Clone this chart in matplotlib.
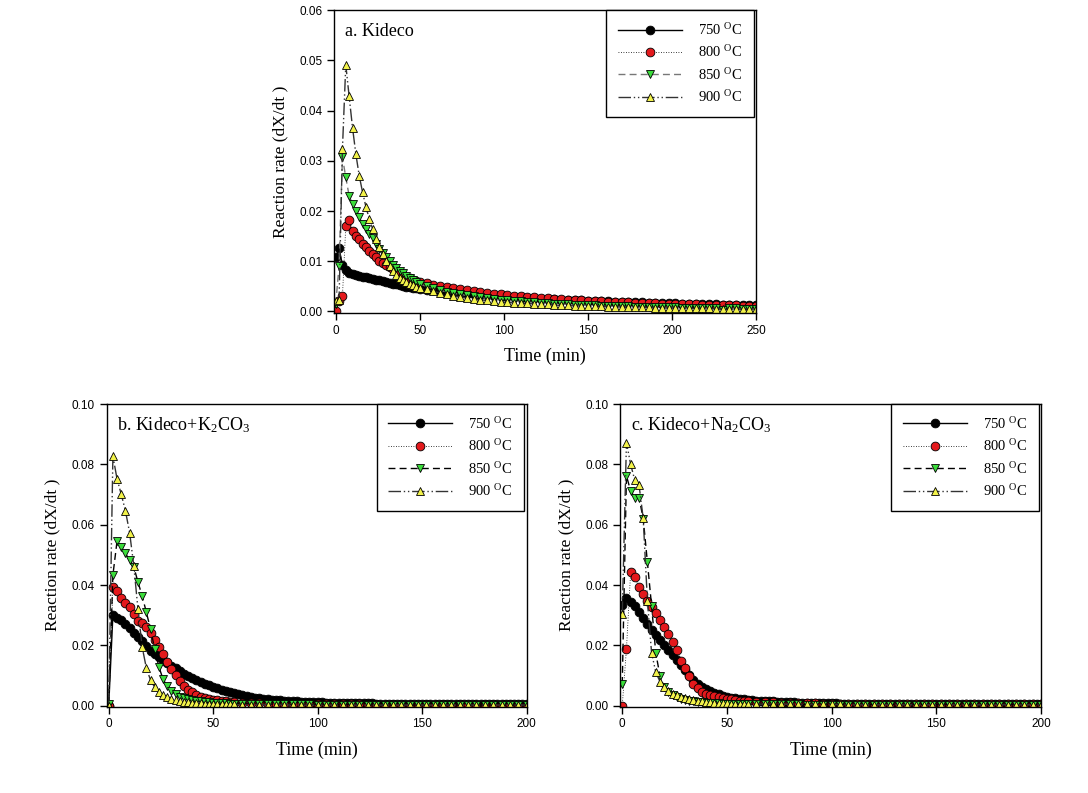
import numpy as np
import matplotlib
matplotlib.use("Agg")
import matplotlib.pyplot as plt

plt.rcParams['mathtext.fontset'] = 'custom'
plt.rcParams['mathtext.rm'] = 'Liberation Serif'
plt.rcParams['mathtext.it'] = 'Liberation Serif:italic'

# ---- data ----
# panel a: Kideco, time grid (min)
time_a = [0, 2, 4, 6, 8, 10, 12, 14, 16, 18, 20, 22, 24, 26, 28, 30, 32, 34, 36, 38, 40,
          42, 44, 46, 48, 50,
          54, 58, 62, 66, 70, 74, 78, 82, 86, 90, 94, 98, 102, 106, 110, 114, 118, 122, 126,
          130, 134, 138, 142, 146, 150, 154, 158, 162, 166, 170, 174, 178, 182, 186, 190,
          194, 198, 202, 206, 210, 214, 218, 222, 226, 230, 234, 238, 242, 246, 250]
a_750 = [0.0108, 0.0126, 0.0092, 0.0082, 0.0077, 0.0075, 0.0073, 0.0071, 0.0069, 0.0068, 0.0066,
         0.0065, 0.0063, 0.0062, 0.0060, 0.0058, 0.0057, 0.0055, 0.0054, 0.0052, 0.0051,
         0.0049, 0.0048, 0.0047, 0.0046, 0.0045,
         0.0043, 0.0042, 0.0040, 0.0039, 0.0037, 0.0036, 0.0035, 0.0034, 0.0033, 0.0032, 0.0031,
         0.0030, 0.0029, 0.0028, 0.0027, 0.0027, 0.0026, 0.0025, 0.0025, 0.0024, 0.0023, 0.0023,
         0.0022, 0.0022, 0.0021, 0.0021, 0.0020, 0.0020, 0.0019, 0.0019, 0.0018, 0.0018, 0.0018,
         0.0017, 0.0017, 0.0016, 0.0016, 0.0016, 0.0015, 0.0015, 0.0015, 0.0014, 0.0014, 0.0014,
         0.0013, 0.0013, 0.0013, 0.0012, 0.0012, 0.0012]
a_800 = [0.0000, 0.0020, 0.0030, 0.0170, 0.0183, 0.0161, 0.0150, 0.0145, 0.0135, 0.0129, 0.0121,
         0.0114, 0.0108, 0.0101, 0.0096, 0.0092, 0.0088, 0.0084, 0.0080, 0.0076, 0.0072,
         0.0069, 0.0066, 0.0063, 0.0061, 0.0059,
         0.0056, 0.0053, 0.0051, 0.0048, 0.0046, 0.0044, 0.0042, 0.0040, 0.0038, 0.0036, 0.0035,
         0.0034, 0.0032, 0.0031, 0.0030, 0.0029, 0.0028, 0.0027, 0.0026, 0.0025, 0.0024, 0.0023,
         0.0023, 0.0022, 0.0021, 0.0021, 0.0020, 0.0019, 0.0019, 0.0018, 0.0018, 0.0017, 0.0017,
         0.0016, 0.0016, 0.0015, 0.0015, 0.0015, 0.0014, 0.0014, 0.0014, 0.0013, 0.0013, 0.0013,
         0.0012, 0.0012, 0.0012, 0.0011, 0.0011, 0.0011]
a_850 = [0.0015, 0.0090, 0.0307, 0.0267, 0.0230, 0.0214, 0.0200, 0.0188, 0.0174, 0.0164, 0.0154,
         0.0146, 0.0135, 0.0125, 0.0116, 0.0108, 0.0100, 0.0093, 0.0087, 0.0081, 0.0076,
         0.0071, 0.0066, 0.0062, 0.0058, 0.0055,
         0.0050, 0.0046, 0.0042, 0.0039, 0.0036, 0.0034, 0.0032, 0.0030, 0.0028, 0.0026, 0.0025,
         0.0023, 0.0022, 0.0021, 0.0020, 0.0019, 0.0018, 0.0017, 0.0016, 0.0015, 0.0015, 0.0014,
         0.0013, 0.0013, 0.0012, 0.0012, 0.0011, 0.0011, 0.0010, 0.0010, 0.0010, 0.0009, 0.0009,
         0.0009, 0.0008, 0.0008, 0.0008, 0.0008, 0.0007, 0.0007, 0.0007, 0.0007, 0.0006, 0.0006,
         0.0003, 0.0006, 0.0006, 0.0005, 0.0005, 0.0005]
a_900 = [0.0020, 0.0022, 0.0323, 0.0491, 0.0428, 0.0366, 0.0313, 0.0270, 0.0237, 0.0208, 0.0184,
         0.0164, 0.0145, 0.0129, 0.0114, 0.0101, 0.0090, 0.0080, 0.0072, 0.0067, 0.0062,
         0.0058, 0.0055, 0.0052, 0.0049, 0.0047,
         0.0044, 0.0040, 0.0037, 0.0034, 0.0031, 0.0029, 0.0027, 0.0025, 0.0023, 0.0022, 0.0020,
         0.0019, 0.0018, 0.0017, 0.0016, 0.0016, 0.0015, 0.0014, 0.0014, 0.0013, 0.0012, 0.0012,
         0.0011, 0.0011, 0.0010, 0.0010, 0.0010, 0.0009, 0.0009, 0.0009, 0.0008, 0.0008, 0.0008,
         0.0008, 0.0007, 0.0007, 0.0007, 0.0007, 0.0006, 0.0006, 0.0006, 0.0006, 0.0006, 0.0005,
         0.0005, 0.0005, 0.0005, 0.0005, 0.0005, 0.0005]

# panels b and c share one time grid (min)
time_bc = [0, 2, 4, 6, 8, 10, 12, 14, 16, 18, 20, 22, 24, 26, 28, 30, 32, 34, 36, 38, 40,
           42, 44, 46, 48, 50, 52, 54, 56, 58, 60,
           64, 68, 72, 76, 80, 84, 88, 92, 96, 100, 104, 108, 112, 116, 120, 124, 128, 132,
           136, 140, 144, 148, 152, 156, 160, 164, 168, 172, 176, 180, 184, 188, 192, 196, 200]
# the 750 oC runs in b and c were logged more often
time_bc_750 = [0, 2, 4, 6, 8, 10, 12, 14, 16, 18, 20, 22, 24, 26, 28, 30, 32, 34, 36, 38, 40,
               42, 44, 46, 48, 50, 52, 54, 56, 58, 60, 62, 64, 66, 68, 70, 72, 74, 76, 78, 80,
               82, 84, 86, 88, 90, 92, 94, 96, 98, 100, 102, 104, 106, 108, 110, 112, 114, 116,
               118, 120, 122, 124, 126, 128, 130, 132, 134, 136, 138, 140, 142, 144, 146, 148,
               150, 152, 154, 156, 158, 160, 162, 164, 166, 168, 170, 172, 174, 176, 178, 180,
               182, 184, 186, 188, 190, 192, 194, 196, 198, 200]

# panel b: Kideco + K2CO3
b_750 = [0.0000, 0.0300, 0.0292, 0.0283, 0.0270, 0.0256, 0.0242, 0.0228, 0.0213, 0.0198, 0.0182,
         0.0172, 0.0162, 0.0152, 0.0142, 0.0133, 0.0124, 0.0115, 0.0106, 0.0099, 0.0092,
         0.0085, 0.0079, 0.0073, 0.0068, 0.0063, 0.0058, 0.0053, 0.0049, 0.0045, 0.0041,
         0.0038, 0.0035, 0.0032, 0.0029, 0.0027, 0.0025, 0.0023, 0.0021, 0.0020, 0.0019,
         0.0018, 0.0017, 0.0016, 0.0015, 0.0014, 0.0013, 0.0013, 0.0012, 0.0012, 0.0011,
         0.0011, 0.0010, 0.0010, 0.0010, 0.0009, 0.0009, 0.0009, 0.0009, 0.0008, 0.0008,
         0.0008, 0.0008, 0.0008, 0.0007, 0.0007, 0.0007, 0.0007, 0.0007, 0.0007, 0.0007,
         0.0006, 0.0007, 0.0006, 0.0006, 0.0006, 0.0006, 0.0006, 0.0006, 0.0006, 0.0006,
         0.0006, 0.0005, 0.0006, 0.0005, 0.0005, 0.0005, 0.0005, 0.0005, 0.0005, 0.0005,
         0.0005, 0.0005, 0.0005, 0.0005, 0.0005, 0.0005, 0.0004, 0.0005, 0.0005, 0.0005]
b_800 = [0.0000, 0.0393, 0.0381, 0.0357, 0.0340, 0.0327, 0.0304, 0.0282, 0.0273, 0.0261, 0.0241,
         0.0218, 0.0194, 0.0171, 0.0146, 0.0121, 0.0102, 0.0083, 0.0066, 0.0053, 0.0044,
         0.0036, 0.0030, 0.0026, 0.0023, 0.0020, 0.0018, 0.0016, 0.0014, 0.0013, 0.0012,
         0.0010, 0.0009, 0.0008, 0.0007, 0.0006, 0.0006, 0.0005, 0.0005, 0.0005, 0.0004, 0.0004,
         0.0004, 0.0004, 0.0004, 0.0004, 0.0003, 0.0003, 0.0003, 0.0003, 0.0003, 0.0003, 0.0003,
         0.0003, 0.0003, 0.0003, 0.0003, 0.0003, 0.0003, 0.0003, 0.0003, 0.0003, 0.0003, 0.0003,
         0.0003, 0.0003]
b_850 = [0.0005, 0.0433, 0.0546, 0.0525, 0.0505, 0.0482, 0.0460, 0.0410, 0.0364, 0.0310, 0.0254,
         0.0188, 0.0129, 0.0088, 0.0064, 0.0048, 0.0038, 0.0030, 0.0025, 0.0021, 0.0018,
         0.0016, 0.0014, 0.0012, 0.0011, 0.0010, 0.0009, 0.0008, 0.0008, 0.0007, 0.0007,
         0.0006, 0.0006, 0.0005, 0.0005, 0.0005, 0.0004, 0.0004, 0.0004, 0.0004, 0.0003, 0.0003,
         0.0003, 0.0003, 0.0003, 0.0003, 0.0003, 0.0002, 0.0002, 0.0002, 0.0002, 0.0002, 0.0002,
         0.0002, 0.0002, 0.0002, 0.0002, 0.0002, 0.0002, 0.0002, 0.0002, 0.0002, 0.0002, 0.0002,
         0.0002, 0.0002]
b_900 = [0.0000, 0.0828, 0.0751, 0.0701, 0.0646, 0.0574, 0.0464, 0.0320, 0.0195, 0.0125, 0.0085,
         0.0061, 0.0045, 0.0035, 0.0028, 0.0023, 0.0019, 0.0016, 0.0013, 0.0011, 0.0010,
         0.0009, 0.0008, 0.0007, 0.0006, 0.0006, 0.0005, 0.0005, 0.0004, 0.0004, 0.0004,
         0.0003, 0.0003, 0.0003, 0.0003, 0.0003, 0.0003, 0.0002, 0.0002, 0.0002, 0.0002, 0.0002,
         0.0002, 0.0002, 0.0002, 0.0002, 0.0002, 0.0002, 0.0002, 0.0002, 0.0002, 0.0002, 0.0002,
         0.0002, 0.0002, 0.0002, 0.0002, 0.0002, 0.0002, 0.0002, 0.0002, 0.0002, 0.0002, 0.0002,
         0.0002, 0.0002]

# panel c: Kideco + Na2CO3
c_750 = [0.0334, 0.0357, 0.0343, 0.0330, 0.0310, 0.0290, 0.0270, 0.0250, 0.0233, 0.0217, 0.0200,
         0.0184, 0.0167, 0.0151, 0.0134, 0.0117, 0.0100, 0.0085, 0.0073, 0.0063, 0.0055,
         0.0048, 0.0042, 0.0037, 0.0033, 0.0030, 0.0027, 0.0025, 0.0023, 0.0021, 0.0019,
         0.0018, 0.0017, 0.0016, 0.0015, 0.0014, 0.0014, 0.0013, 0.0012, 0.0012, 0.0011,
         0.0011, 0.0010, 0.0010, 0.0009, 0.0009, 0.0009, 0.0009, 0.0008, 0.0008, 0.0008,
         0.0008, 0.0007, 0.0007, 0.0007, 0.0007, 0.0007, 0.0007, 0.0006, 0.0006, 0.0006,
         0.0006, 0.0006, 0.0006, 0.0006, 0.0006, 0.0006, 0.0005, 0.0006, 0.0005, 0.0005,
         0.0005, 0.0005, 0.0005, 0.0005, 0.0005, 0.0005, 0.0005, 0.0005, 0.0005, 0.0005,
         0.0005, 0.0005, 0.0005, 0.0005, 0.0004, 0.0005, 0.0005, 0.0005, 0.0004, 0.0005,
         0.0005, 0.0004, 0.0005, 0.0005, 0.0004, 0.0005, 0.0005, 0.0004, 0.0005, 0.0005]
c_800 = [0.0000, 0.0188, 0.0442, 0.0427, 0.0394, 0.0370, 0.0348, 0.0326, 0.0307, 0.0283, 0.0261,
         0.0237, 0.0212, 0.0184, 0.0149, 0.0125, 0.0097, 0.0073, 0.0057, 0.0046, 0.0040,
         0.0035, 0.0031, 0.0028, 0.0025, 0.0023, 0.0021, 0.0019, 0.0017, 0.0016, 0.0015,
         0.0013, 0.0012, 0.0011, 0.0010, 0.0009, 0.0009, 0.0008, 0.0008, 0.0007, 0.0007, 0.0007,
         0.0006, 0.0006, 0.0006, 0.0006, 0.0006, 0.0005, 0.0005, 0.0005, 0.0005, 0.0005, 0.0005,
         0.0005, 0.0005, 0.0005, 0.0005, 0.0005, 0.0005, 0.0005, 0.0005, 0.0005, 0.0005, 0.0005,
         0.0005, 0.0005]
c_850 = [0.0072, 0.0762, 0.0712, 0.0690, 0.0690, 0.0620, 0.0476, 0.0331, 0.0175, 0.0099, 0.0061,
         0.0045, 0.0035, 0.0028, 0.0023, 0.0019, 0.0016, 0.0014, 0.0012, 0.0011, 0.0010,
         0.0009, 0.0008, 0.0008, 0.0007, 0.0007, 0.0006, 0.0006, 0.0006, 0.0005, 0.0005,
         0.0005, 0.0004, 0.0004, 0.0004, 0.0004, 0.0004, 0.0003, 0.0003, 0.0003, 0.0003, 0.0003,
         0.0003, 0.0003, 0.0003, 0.0003, 0.0003, 0.0003, 0.0003, 0.0003, 0.0003, 0.0003, 0.0003,
         0.0003, 0.0003, 0.0003, 0.0003, 0.0003, 0.0003, 0.0003, 0.0003, 0.0003, 0.0003, 0.0003,
         0.0003, 0.0003]
c_900 = [0.0304, 0.0872, 0.0800, 0.0747, 0.0732, 0.0621, 0.0348, 0.0175, 0.0111, 0.0080, 0.0061,
         0.0047, 0.0040, 0.0034, 0.0029, 0.0025, 0.0021, 0.0018, 0.0016, 0.0014, 0.0012,
         0.0011, 0.0010, 0.0009, 0.0008, 0.0008, 0.0007, 0.0007, 0.0006, 0.0006, 0.0006,
         0.0005, 0.0005, 0.0005, 0.0005, 0.0004, 0.0004, 0.0004, 0.0004, 0.0004, 0.0004, 0.0004,
         0.0003, 0.0003, 0.0003, 0.0003, 0.0003, 0.0003, 0.0003, 0.0003, 0.0003, 0.0003, 0.0003,
         0.0003, 0.0003, 0.0003, 0.0003, 0.0003, 0.0003, 0.0003, 0.0003, 0.0003, 0.0003, 0.0003,
         0.0003, 0.0003]

temps = ['750', '800', '850', '900']

SERIF = 'Liberation Serif'
SANS = 'Liberation Sans'


def draw_panel(ax, times, series, title, xmax, ymax, ystep, dash_color):
    styles = [
        dict(ls='-', color='black', lw=1.0, marker='o', mfc='black'),
        dict(ls=(0, (1, 2)), color='black', lw=0.6, marker='o', mfc='#e3191c'),
        dict(ls=(0, (5, 3)), color=dash_color, lw=1.0, marker='v', mfc='#3bdc3b'),
        dict(ls=(0, (9, 2, 1, 2, 1, 2)), color='#333333', lw=1.0, marker='^', mfc='#f2f24a'),
    ]
    for t, vals, st, temp in zip(times, series, styles, temps):
        ax.plot(t, vals, ms=6.3, mec='black', mew=0.6,
                label=temp + r' $^{\mathrm{O}}$C', **st)

    ax.set_xlim(-1, xmax)
    ax.set_ylim(-0.0003, ymax)
    ax.set_xticks(np.arange(0, xmax + 1, 50))
    ax.set_yticks(np.arange(0, ymax + ystep / 2, ystep))
    ax.yaxis.set_major_formatter(matplotlib.ticker.FormatStrFormatter('%.2f'))
    ax.tick_params(direction='out', length=5, width=1, labelsize=8.5,
                   top=False, right=False)
    for lab in ax.get_xticklabels() + ax.get_yticklabels():
        lab.set_family(SANS)
    for sp in ax.spines.values():
        sp.set_linewidth(1.0)

    ax.set_xlabel('Time (min)', family=SERIF, fontsize=13, labelpad=8)
    ax.set_ylabel('Reaction rate (dX/dt )', family=SERIF, fontsize=12.5, labelpad=8)
    ax.text(0.025, 0.93, title, transform=ax.transAxes, family=SERIF,
            fontsize=13, va='center', ha='left')

    leg = ax.legend(loc='upper right', bbox_to_anchor=(0.995, 1.0), borderaxespad=0,
                    fancybox=False, edgecolor='black', framealpha=1,
                    handlelength=4.4, handletextpad=1.1, labelspacing=0.45,
                    borderpad=0.8, prop={'family': SERIF, 'size': 10.5})
    leg.get_frame().set_linewidth(1.0)


fig = plt.figure(figsize=(10.88, 7.93), dpi=100)
ax_a = fig.add_axes([0.307, 0.6053, 0.388, 0.382])
ax_b = fig.add_axes([0.098, 0.109, 0.386, 0.3815])
ax_c = fig.add_axes([0.570, 0.109, 0.387, 0.3815])

draw_panel(ax_a, [time_a] * 4, [a_750, a_800, a_850, a_900], 'a. Kideco',
           250, 0.06, 0.01, '#777777')
draw_panel(ax_b, [time_bc_750, time_bc, time_bc, time_bc], [b_750, b_800, b_850, b_900],
           r'b. Kideco+K$_{\mathrm{2}}$CO$_{\mathrm{3}}$', 200, 0.10, 0.02, 'black')
draw_panel(ax_c, [time_bc_750, time_bc, time_bc, time_bc], [c_750, c_800, c_850, c_900],
           r'c. Kideco+Na$_{\mathrm{2}}$CO$_{\mathrm{3}}$', 200, 0.10, 0.02, 'black')

fig.savefig('out.png', dpi=100)
